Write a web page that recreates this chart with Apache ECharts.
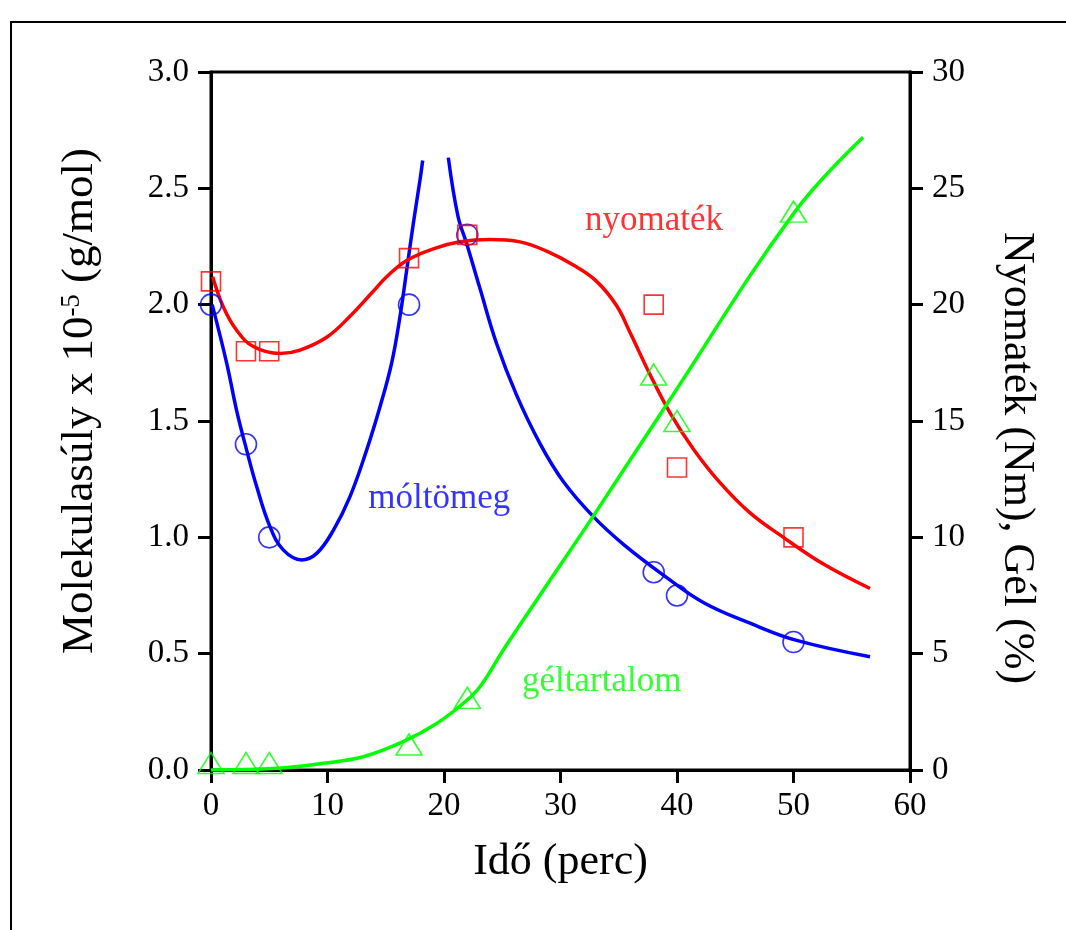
<!DOCTYPE html>
<html>
<head>
<meta charset="utf-8">
<script src="https://cdn.jsdelivr.net/npm/echarts@6/dist/echarts.min.js"></script>
<style>
html,body{margin:0;padding:0;background:#fff;}
#chart{width:1066px;height:930px;}
</style>
</head>
<body>
<div id="chart"></div>
<script>
// ---- Data ----
const xTicks = [0, 10, 20, 30, 40, 50, 60];
const leftTicks = [0.0, 0.5, 1.0, 1.5, 2.0, 2.5, 3.0];
const rightTicks = [0, 5, 10, 15, 20, 25, 30];

// measured points
const timePts = [0, 3, 5, 17, 22, 38, 40, 50];
const molWeight = [2.0, 1.4, 1.0, 2.0, 2.3, 0.85, 0.75, 0.55];   // x 10^5 g/mol (left axis)
const torque = [21, 18, 18, 22, 23, 20, 13, 10];                // Nm (right axis)
const gelContent = [0.3, 0.3, 0.3, 1.1, 3.1, 17, 15, 24];        // % (right axis)

// fitted curves
const mwFitA_t = [0.1, 1.35, 2.2, 3.06, 3.92, 5.06, 6.2, 7.78, 9.07, 10.5, 11.93, 13.36, 14.5, 15.5, 16.22, 16.8, 17.37, 17.94, 18.17];
const mwFitA_v = [2.0, 1.748, 1.545, 1.375, 1.218, 1.046, 0.946, 0.903, 0.931, 1.03, 1.175, 1.375, 1.56, 1.748, 1.948, 2.149, 2.35, 2.536, 2.62];
const mwFitB_t = [20.37, 21.2, 21.95, 23.09, 24.52, 26.24, 28.24, 30.24, 32.8, 35.4, 38.8, 42.26, 46.27, 50.27, 56.57];
const mwFitB_v = [2.632, 2.38, 2.262, 2.069, 1.832, 1.61, 1.403, 1.24, 1.09, 0.97, 0.839, 0.72, 0.631, 0.557, 0.487];
const torqueFit_t = [0.14, 1.06, 2.2, 3.63, 5.92, 7.64, 9.93, 11.93, 13.79, 15.08, 16.8, 19.08, 21.37, 23.95, 26.52, 28.81, 31.1, 33.1, 34.82, 35.97, 37.68, 39.4, 41.4, 43.69, 46.27, 49.13, 52.57, 56.57];
const torqueFit_v = [21.2, 19.9, 18.9, 18.2, 17.9, 18.05, 18.6, 19.5, 20.5, 21.2, 21.9, 22.4, 22.7, 22.8, 22.7, 22.3, 21.7, 21.0, 19.95, 18.8, 17.0, 15.35, 13.8, 12.35, 11.05, 10.0, 8.85, 7.8];
const gelFit_t = [0, 5.64, 9.64, 13.07, 16.5, 19.37, 21.66, 23.09, 25.09, 27.96, 32.8, 39.1, 50.13, 55.98];
const gelFit_v = [0, 0.07, 0.29, 0.57, 1.22, 2.0, 2.87, 3.58, 5.16, 7.31, 10.9, 15.7, 24.0, 27.2];

// in-plot labels (data coordinates, left axis units)
const labelNames = ['nyomaték', 'móltömeg', 'géltartalom'];
const labelT = [32.1, 13.5, 26.7];
const labelV = [2.36, 1.165, 0.378];
const labelColors = ['#ff0000', '#0000ff', '#00ff00'];

const RED = '#ff0000', BLUE = '#0000ff', GREEN = '#00ff00';
const FONT = 'Liberation Serif';

const zip = (a, b) => a.map((x, i) => [x, b[i]]);

const chart = echarts.init(document.getElementById('chart'), null, {renderer: 'canvas'});

const axisCommon = {
  axisLine: {show: true, onZero: false, lineStyle: {color: '#000', width: 3}},
  axisTick: {show: true, inside: false, length: 13, lineStyle: {color: '#000', width: 3}},
  splitLine: {show: false},
  minorTick: {show: false}
};

const option = {
  backgroundColor: '#fff',
  animation: false,
  grid: {left: 211, right: 156, top: 72, bottom: 160, show: true, borderColor: '#000', borderWidth: 3, backgroundColor: 'transparent'},
  graphic: [{
    type: 'polyline',
    shape: {points: [[11, 930], [11, 22], [1066, 22]]},
    style: {stroke: '#000', lineWidth: 2, fill: null}
  }],
  xAxis: Object.assign({
    type: 'value', min: xTicks[0], max: xTicks[xTicks.length - 1], interval: 10,
    name: 'Idő (perc)', nameLocation: 'middle', nameGap: 70,
    nameTextStyle: {fontFamily: FONT, fontSize: 44, color: '#000'},
    axisLabel: {fontFamily: FONT, fontSize: 33, color: '#000', margin: 20}
  }, axisCommon),
  yAxis: [
    Object.assign({
      type: 'value', position: 'left', min: leftTicks[0], max: leftTicks[leftTicks.length - 1], interval: 0.5,
      name: 'Molekulasúly x 10{sup|-5} (g/mol)', nameLocation: 'middle', nameGap: 108, nameRotate: 90,
      nameTextStyle: {fontFamily: FONT, fontSize: 45, color: '#000', padding: [0, 0, 0, 40],
        rich: {sup: {fontFamily: FONT, fontSize: 27, color: '#000', verticalAlign: 'top'}}},
      axisLabel: {fontFamily: FONT, fontSize: 33, color: '#000', margin: 22, formatter: v => v.toFixed(1)}
    }, axisCommon),
    Object.assign({
      type: 'value', position: 'right', min: rightTicks[0], max: rightTicks[rightTicks.length - 1], interval: 5,
      name: 'Nyomaték (Nm), Gél (%)', nameLocation: 'middle', nameGap: 85, nameRotate: -90,
      nameTextStyle: {fontFamily: FONT, fontSize: 44, color: '#000', padding: [0, 0, 0, 74]},
      axisLabel: {fontFamily: FONT, fontSize: 33, color: '#000', margin: 22}
    }, axisCommon)
  ],
  series: [
    {type: 'line', yAxisIndex: 0, data: zip(mwFitA_t, mwFitA_v), smooth: 0.4, showSymbol: false, symbol: 'none',
     lineStyle: {color: BLUE, width: 3.5}, z: 3},
    {type: 'line', yAxisIndex: 0, data: zip(mwFitB_t, mwFitB_v), smooth: 0.4, showSymbol: false, symbol: 'none',
     lineStyle: {color: BLUE, width: 3.5}, z: 3},
    {type: 'line', yAxisIndex: 1, data: zip(torqueFit_t, torqueFit_v), smooth: 0.4, showSymbol: false, symbol: 'none',
     lineStyle: {color: RED, width: 3.5}, z: 3},
    {type: 'line', yAxisIndex: 1, data: zip(gelFit_t, gelFit_v), smooth: 0.4, showSymbol: false, symbol: 'none',
     lineStyle: {color: GREEN, width: 3.5}, z: 3},
    {type: 'scatter', yAxisIndex: 0, data: zip(timePts, molWeight), symbol: 'circle', symbolSize: 21,
     itemStyle: {color: 'rgba(0,0,0,0)', borderColor: BLUE, borderWidth: 1.6}, z: 4},
    {type: 'scatter', yAxisIndex: 1, data: zip(timePts, torque), symbol: 'rect', symbolSize: 19,
     itemStyle: {color: 'rgba(0,0,0,0)', borderColor: RED, borderWidth: 1.6}, z: 4},
    {type: 'scatter', yAxisIndex: 1, data: zip(timePts, gelContent), symbol: 'triangle', symbolSize: [26, 21],
     itemStyle: {color: 'rgba(0,0,0,0)', borderColor: GREEN, borderWidth: 1.6}, z: 4},
    {type: 'scatter', yAxisIndex: 0, symbolSize: 0, silent: true, z: 5,
     data: labelNames.map((n, i) => ({value: [labelT[i], labelV[i]], name: n,
       label: {color: labelColors[i]}})),
     label: {show: true, position: 'right', distance: 0, formatter: p => p.name,
       fontFamily: FONT, fontSize: 35, align: 'left', verticalAlign: 'middle'}}
  ]
};
chart.setOption(option);
</script>
</body>
</html>
